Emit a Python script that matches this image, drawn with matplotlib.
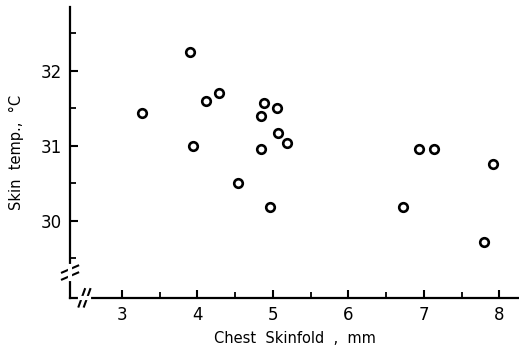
import matplotlib
matplotlib.use("Agg")
import matplotlib.pyplot as plt
from matplotlib.ticker import FixedLocator

# Chest skinfold (mm) vs. skin temperature (deg C)
skinfold = [3.27, 3.90, 3.94, 4.12, 4.29, 4.54, 4.85, 4.88, 4.85, 5.05,
            5.07, 5.19, 4.96, 6.72, 6.94, 7.14, 7.91, 7.80]
skin_temp = [31.43, 32.25, 31.00, 31.59, 31.70, 30.50, 31.40, 31.57, 30.96, 31.50,
             31.17, 31.03, 30.18, 30.18, 30.95, 30.96, 30.75, 29.72]
x_ticks = [3, 4, 5, 6, 7, 8]
y_ticks = [30, 31, 32]

fig = plt.figure(figsize=(5.19, 3.5), dpi=100)
ax = fig.add_axes([0.135, 0.149, 0.865, 0.831])

ax.scatter(skinfold, skin_temp, s=38, facecolors="white", edgecolors="black",
           linewidths=1.9, zorder=3, clip_on=False)

ax.set_xlim(2.315, 8.26)
ax.set_ylim(28.97, 32.85)

ax.xaxis.set_major_locator(FixedLocator(x_ticks))
ax.yaxis.set_major_locator(FixedLocator(y_ticks))
ax.xaxis.set_minor_locator(FixedLocator([3.5, 4.5, 5.5, 6.5, 7.5]))
ax.yaxis.set_minor_locator(FixedLocator([29.5, 30.5, 31.5, 32.5]))
ax.set_xticklabels([str(t) for t in x_ticks])
ax.set_yticklabels([str(t) for t in y_ticks])

for side in ("top", "right"):
    ax.spines[side].set_visible(False)
for side in ("left", "bottom"):
    ax.spines[side].set_linewidth(1.6)

ax.tick_params(which="major", direction="in", length=6, width=1.5,
               labelsize=12, pad=6)
ax.tick_params(which="minor", direction="in", length=4, width=1.3)

ax.set_xlabel("Chest  Skinfold  ,  mm", fontsize=10.5, labelpad=5)
ax.set_ylabel("Skin  temp.,  \u00b0C", fontsize=10.5, labelpad=12)

# axis break marks
def break_mark(x0, y0, dx, dy, off_x, off_y):
    for k in (-1, 1):
        ax.plot([x0 - dx + k * off_x, x0 + dx + k * off_x],
                [y0 - dy + k * off_y, y0 + dy + k * off_y],
                transform=ax.transAxes, color="black", lw=1.5, clip_on=False)

ax.plot([0.022, 0.042], [0.0, 0.0], transform=ax.transAxes, color="white",
        lw=3, clip_on=False, zorder=4)
break_mark(0.032, 0.0, 0.007, 0.03, 0.006, 0.0)
ax.plot([0.0, 0.0], [0.065, 0.11], transform=ax.transAxes, color="white",
        lw=3, clip_on=False, zorder=4)
break_mark(0.0, 0.087, 0.018, 0.012, 0.0, 0.012)

fig.savefig("out.png", dpi=100)
